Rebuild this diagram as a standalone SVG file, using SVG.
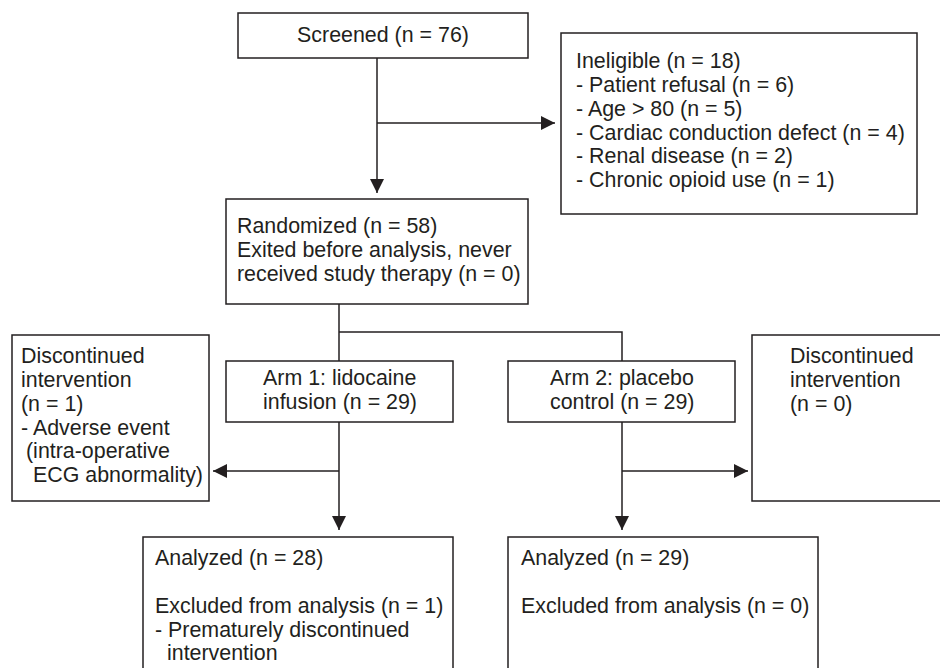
<svg xmlns="http://www.w3.org/2000/svg" width="940" height="668" viewBox="0 0 940 668">
<style>
.box{fill:#fff;stroke:#231f20;stroke-width:1.5}
.ln{fill:none;stroke:#231f20;stroke-width:1.5}
text{font-family:"Liberation Sans",Arial,sans-serif;font-size:21.4px;fill:#231f20}
</style>
<defs>
<marker id="ah" markerUnits="userSpaceOnUse" markerWidth="14" markerHeight="14" viewBox="0 0 13 13" refX="13" refY="6.5" orient="auto">
<path d="M0,0 L13,6.5 L0,13 Z" fill="#231f20"/>
</marker>
</defs>
<rect width="940" height="668" fill="#fff"/>
<g id="connectors">
<path class="ln" d="M377,58 V193" marker-end="url(#ah)"/>
<path class="ln" d="M377,123 H555" marker-end="url(#ah)"/>
<path class="ln" d="M339,304 V361"/>
<path class="ln" d="M339,332 H622 V361"/>
<path class="ln" d="M339,422 V530" marker-end="url(#ah)"/>
<path class="ln" d="M339,471 H213" marker-end="url(#ah)"/>
<path class="ln" d="M622,422 V530" marker-end="url(#ah)"/>
<path class="ln" d="M622,471 H748" marker-end="url(#ah)"/>
</g>
<g id="screened">
<rect class="box" x="238" y="13" width="290" height="45"/>
<text x="383" y="42" text-anchor="middle">Screened (n = 76)</text>
</g>
<g id="ineligible">
<rect class="box" x="561" y="33" width="356" height="181"/>
<text x="576" y="68">Ineligible (n = 18)</text>
<text x="576" y="92">- Patient refusal (n = 6)</text>
<text x="576" y="116">- Age &gt; 80 (n = 5)</text>
<text x="576" y="140">- Cardiac conduction defect (n = 4)</text>
<text x="576" y="163">- Renal disease (n = 2)</text>
<text x="576" y="187">- Chronic opioid use (n = 1)</text>
</g>
<g id="randomized">
<rect class="box" x="226" y="199" width="302" height="105"/>
<text x="237" y="233">Randomized (n = 58)</text>
<text x="237" y="257">Exited before analysis, never</text>
<text x="237" y="281">received study therapy (n = 0)</text>
</g>
<g id="arm1">
<rect class="box" x="226" y="361" width="227" height="61"/>
<text x="263" y="385">Arm 1: lidocaine</text>
<text x="263" y="409">infusion (n = 29)</text>
</g>
<g id="arm2">
<rect class="box" x="508" y="361" width="227" height="61"/>
<text x="550" y="385">Arm 2: placebo</text>
<text x="550" y="409">control (n = 29)</text>
</g>
<g id="disc1">
<rect class="box" x="12" y="335" width="197" height="166"/>
<text x="21" y="363">Discontinued</text>
<text x="21" y="387">intervention</text>
<text x="21" y="411">(n = 1)</text>
<text x="21" y="435">- Adverse event</text>
<text x="26" y="458">(intra-operative</text>
<text x="33" y="482">ECG abnormality)</text>
</g>
<g id="disc2">
<rect class="box" x="752" y="335" width="200" height="166"/>
<text x="790" y="363">Discontinued</text>
<text x="790" y="387">intervention</text>
<text x="790" y="411">(n = 0)</text>
</g>
<g id="analyzed1">
<rect class="box" x="143" y="537" width="310" height="145"/>
<text x="155" y="565">Analyzed (n = 28)</text>
<text x="155" y="613">Excluded from analysis (n = 1)</text>
<text x="155" y="637">- Prematurely discontinued</text>
<text x="167" y="660">intervention</text>
</g>
<g id="analyzed2">
<rect class="box" x="508" y="537" width="310" height="145"/>
<text x="521" y="565">Analyzed (n = 29)</text>
<text x="521" y="613">Excluded from analysis (n = 0)</text>
</g>
</svg>
